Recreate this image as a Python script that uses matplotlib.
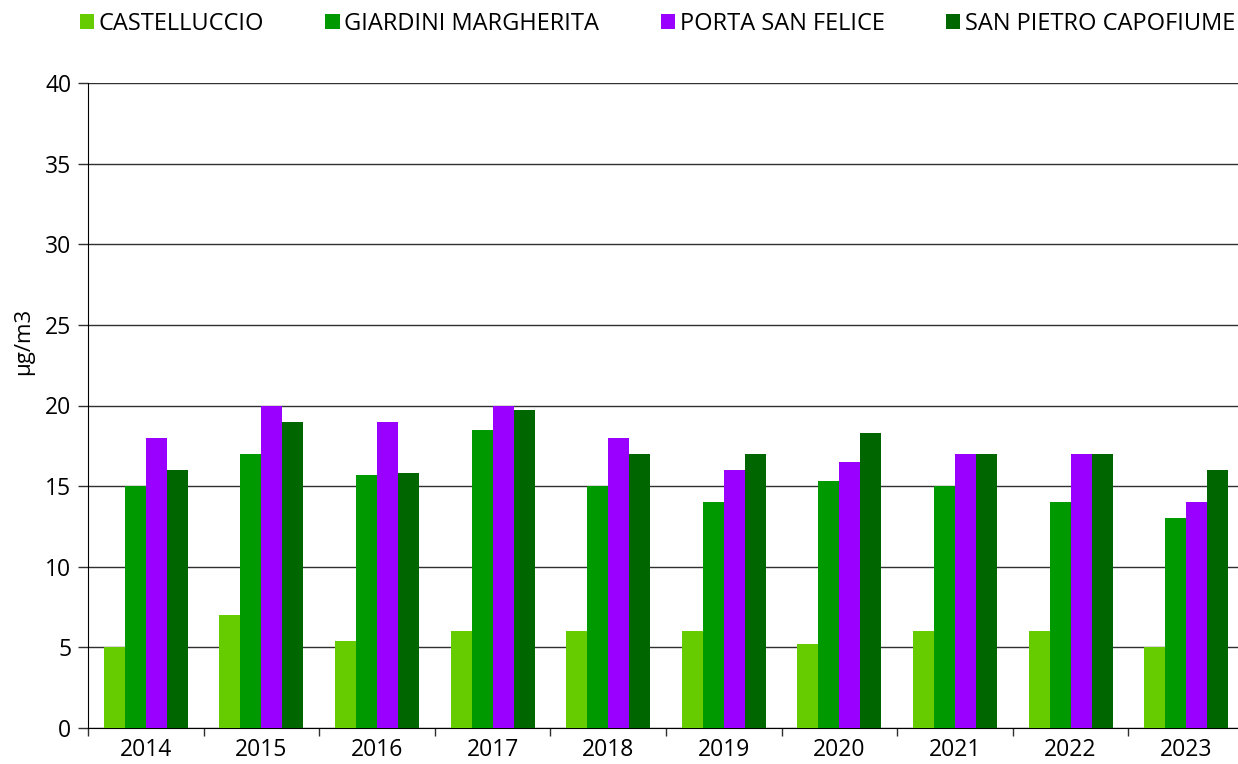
import matplotlib.pyplot as plt
from matplotlib.patches import Patch
import numpy as np

plt.rcParams['font.family'] = ['Open Sans', 'DejaVu Sans']

anni = ['2014', '2015', '2016', '2017', '2018', '2019', '2020', '2021', '2022', '2023']
stazioni = ['CASTELLUCCIO', 'GIARDINI MARGHERITA', 'PORTA SAN FELICE', 'SAN PIETRO CAPOFIUME']
castelluccio = [5, 7, 5.4, 6, 6, 6, 5.2, 6, 6, 5]
giardini_margherita = [15, 17, 15.7, 18.5, 15, 14, 15.3, 15, 14, 13]
porta_san_felice = [18, 20, 19, 20, 18, 16, 16.5, 17, 17, 14]
san_pietro_capofiume = [16, 19, 15.8, 19.7, 17, 17, 18.3, 17, 17, 16]
colori = ['#66CC00', '#009900', '#9900FF', '#006600']

serie = [castelluccio, giardini_margherita, porta_san_felice, san_pietro_capofiume]

fig = plt.figure(figsize=(12.38, 7.64), dpi=100)
ax = fig.add_axes([88 / 1238, 1 - 728 / 764, 1156 / 1238, 645 / 764])

x = np.arange(len(anni))
w = 1 / 5.5
for i, (vals, c) in enumerate(zip(serie, colori)):
    ax.bar(x + (i - 1.5) * w, vals, w, color=c, zorder=3)

ax.set_xlim(-0.5, len(anni) - 0.5)
ax.set_ylim(0, 40)
ax.set_yticks(range(0, 41, 5))
ax.yaxis.grid(True, color='#303030', lw=1, zorder=0)
ax.set_xticks(x)
ax.set_xticklabels(anni, fontsize=16.5)
ax.set_xticks(np.arange(-0.5, len(anni), 1), minor=True)
ax.tick_params(axis='x', which='major', length=0, pad=7)
ax.tick_params(axis='x', which='minor', length=6, width=1, color='#303030')
ax.tick_params(axis='y', labelsize=16.5, length=7, width=1, color='#303030', pad=5)
for s in ['top', 'right']:
    ax.spines[s].set_visible(False)
ax.spines['left'].set_color('black')
ax.spines['bottom'].set_color('black')
ax.set_ylabel('µg/m3', fontsize=16)
ax.yaxis.set_label_coords(-0.047, 0.60)

handles = [Patch(facecolor=c) for c in colori]
fig.legend(handles, stazioni, loc='center', bbox_to_anchor=(0.531, 1 - 24 / 764), ncol=4,
           frameon=False, fontsize=17, handlelength=0.6, handleheight=0.6,
           handletextpad=0.2, columnspacing=2.6, borderaxespad=0, borderpad=0)

fig.savefig('out.png', dpi=100)
